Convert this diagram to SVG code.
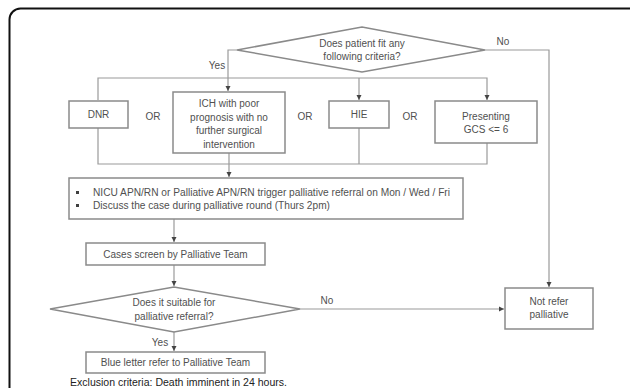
<svg xmlns="http://www.w3.org/2000/svg" width="630" height="388" viewBox="0 0 630 388">
<defs>
<marker id="ah" markerWidth="6" markerHeight="6" refX="5" refY="3" orient="auto" markerUnits="userSpaceOnUse">
<path d="M0,0.5 L5,3 L0,5.5 Z" fill="#444"/>
</marker>
<style>
.box{fill:#fff;stroke:#8a8a8a;stroke-width:1.5}
.ln{fill:none;stroke:#9a9a9a;stroke-width:1.2}
.t{font-family:"Liberation Sans",Arial,sans-serif;font-size:10px;fill:#505050;text-anchor:middle}
.tl{font-family:"Liberation Sans",Arial,sans-serif;font-size:10px;fill:#505050}
.bul{fill:#404040}
</style>
</defs>
<rect width="630" height="388" fill="#fff"/>
<rect x="9.5" y="8.5" width="640" height="400" rx="11" fill="none" stroke="#111" stroke-width="2"/>

<g id="connectors">
<polyline class="ln" points="237,50 228,50 228,91" marker-end="url(#ah)"/>
<polyline class="ln" points="98,100 98,78 487,78 487,100" marker-end="url(#ah)"/>
<line class="ln" x1="359" y1="78" x2="359" y2="100" marker-end="url(#ah)"/>
<polyline class="ln" points="98,128 98,164 487,164 487,143"/>
<line class="ln" x1="359" y1="128" x2="359" y2="164"/>
<line class="ln" x1="229" y1="153" x2="229" y2="177" marker-end="url(#ah)"/>
<line class="ln" x1="174" y1="219" x2="174" y2="242" marker-end="url(#ah)"/>
<line class="ln" x1="174" y1="265" x2="174" y2="286" marker-end="url(#ah)"/>
<line class="ln" x1="174" y1="332" x2="174" y2="351" marker-end="url(#ah)"/>
<line class="ln" x1="300" y1="309" x2="504" y2="309" marker-end="url(#ah)"/>
<polyline class="ln" points="485,50 549,50 549,287" marker-end="url(#ah)"/>
<text class="t" x="217" y="69">Yes</text>
<text class="t" x="503" y="45">No</text>
<text class="t" x="327" y="304">No</text>
<text class="t" x="160" y="346">Yes</text>
<text class="t" x="153" y="120">OR</text>
<text class="t" x="305" y="120">OR</text>
<text class="t" x="410" y="120">OR</text>
</g>

<g id="q1">
<polygon class="box" points="237,50 362,27 485,50 362,72"/>
<text class="t" x="362" y="47">Does patient fit any</text>
<text class="t" x="362" y="60">following criteria?</text>
</g>
<g id="dnr">
<rect class="box" x="69" y="101" width="59" height="27"/>
<text class="t" x="98.5" y="118">DNR</text>
</g>
<g id="ich">
<rect class="box" x="173" y="92" width="112" height="61"/>
<text class="t" x="229" y="107">ICH with poor</text>
<text class="t" x="229" y="120.5">prognosis with no</text>
<text class="t" x="229" y="134">further surgical</text>
<text class="t" x="229" y="147.5">intervention</text>
</g>
<g id="hie">
<rect class="box" x="329" y="101" width="60" height="27"/>
<text class="t" x="359" y="118">HIE</text>
</g>
<g id="gcs">
<rect class="box" x="435" y="101" width="102" height="42"/>
<text class="t" x="486" y="120">Presenting</text>
<text class="t" x="486" y="133">GCS &lt;= 6</text>
</g>
<g id="trigger">
<rect class="box" x="69" y="178" width="394" height="41"/>
<rect class="bul" x="76" y="191" width="3" height="3"/>
<text class="tl" x="93" y="196" textLength="357" lengthAdjust="spacingAndGlyphs">NICU APN/RN or Palliative APN/RN trigger palliative referral on Mon / Wed / Fri</text>
<rect class="bul" x="76" y="204" width="3" height="3"/>
<text class="tl" x="93" y="209" textLength="237" lengthAdjust="spacingAndGlyphs">Discuss the case during palliative round (Thurs 2pm)</text>
</g>
<g id="screen">
<rect class="box" x="86" y="243" width="179" height="22"/>
<text class="t" x="175.5" y="257.5">Cases screen by Palliative Team</text>
</g>
<g id="q2">
<polygon class="box" points="50,309 174,287 300,309 174,332"/>
<text class="t" x="174" y="306">Does it suitable for</text>
<text class="t" x="174" y="320">palliative referral?</text>
</g>
<g id="blue">
<rect class="box" x="86" y="352" width="179" height="21"/>
<text class="t" x="175.5" y="366">Blue letter refer to Palliative Team</text>
</g>
<g id="notrefer">
<rect class="box" x="505" y="288" width="88" height="41"/>
<text class="t" x="549" y="305">Not refer</text>
<text class="t" x="549" y="318">palliative</text>
</g>
<text x="70" y="386" font-family="'Liberation Sans',Arial,sans-serif" font-size="10" fill="#222" textLength="217" lengthAdjust="spacingAndGlyphs">Exclusion criteria: Death imminent in 24 hours.</text>
</svg>
